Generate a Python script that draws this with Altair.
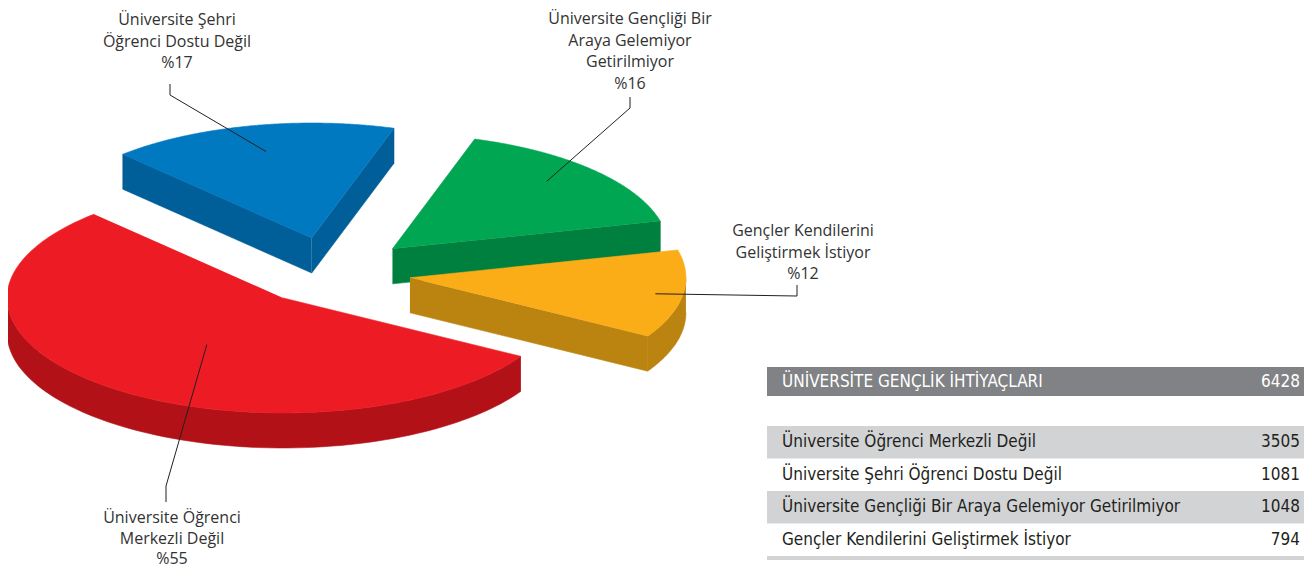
import numpy as np
import pandas as pd
import altair as alt

# ---------------- data ----------------
CATEGORIES = [
    "Üniversite Öğrenci Merkezli Değil",
    "Üniversite Şehri Öğrenci Dostu Değil",
    "Üniversite Gençliği Bir Araya Gelemiyor Getirilmiyor",
    "Gençler Kendilerini Geliştirmek İstiyor",
]
COUNTS = [3505, 1081, 1048, 794]
TOTAL_TITLE = "ÜNİVERSİTE GENÇLİK İHTİYAÇLARI"
TOTAL = 6428
PIE_LABEL_LINES = [
    ["Üniversite Öğrenci", "Merkezli Değil"],
    ["Üniversite Şehri", "Öğrenci Dostu Değil"],
    ["Üniversite Gençliği Bir", "Araya Gelemiyor", "Getirilmiyor"],
    ["Gençler Kendilerini", "Geliştirmek İstiyor"],
]
TOP_COLORS = ["#ED1C24", "#0079C1", "#00A651", "#FBAD18"]
SIDE_COLORS = ["#B11117", "#005E99", "#00803E", "#BB8411"]

# ---------------- layout (page pixel units) ----------------
W, H = 1296, 560
PX0, PY0 = 8, 8
CX, CY = 331, 273          # pie centre
RX, RY = 276, 115          # ellipse radii of the tilted pie
DEPTH = 35                 # thickness of the pie
START_DEG = 30.5           # start angle (clockwise on screen, 0 = right)
EXPLODE = [0.278, 0.312, 0.306, 0.289]
LEADER_ANCHOR = [(124.3, 0.49), (257.6, 0.77), (313.6, 0.81), (8.9, 0.90)]
LEADER_PATH = [[(166, 486), (166, 502)], [(170, 95), (170, 84)],
               [(630, 108), (630, 97)], [(797, 296), (797, 285)]]
LABEL_POS = [(172, 518), (177, 20), (630, 19), (803, 231)]
LABEL_LH = [20.5, 21.5, 21.5, 21.5]
LABEL_FONT = "Open Sans"
TABLE_FONT = "Liberation Sans Narrow, DejaVu Sans Condensed, Roboto"
TX0, TX1 = 767, 1304
HEAD_Y0, HEAD_Y1 = 367, 396
ROW_Y0, ROW_PITCH = 426, 32.5

counts = np.array(COUNTS, dtype=float)
shares = counts / counts.sum()
spans = shares * 360.0
starts = START_DEG + np.concatenate([[0], np.cumsum(spans)[:-1]])
ends = starts + spans
mids = (starts + ends) / 2


def rim(ax, ay, t, dy=0.0):
    r = np.radians(t)
    return ax + RX * np.cos(r), ay + RY * np.sin(r) + dy


faces = []  # (rank, kind, face_id, color, points)
for k in range(len(COUNTS)):
    m = np.radians(mids[k])
    ax = CX + EXPLODE[k] * RX * np.cos(m)
    ay = CY + EXPLODE[k] * RY * np.sin(m)
    t1, t2 = starts[k], ends[k]
    depth_rank = np.sin(m)
    sides = []
    if np.cos(np.radians(t1)) < 0:
        x1, y1 = rim(ax, ay, t1)
        sides.append([(ax, ay), (x1, y1), (x1, y1 + DEPTH), (ax, ay + DEPTH)])
    if np.cos(np.radians(t2)) > 0:
        x2, y2 = rim(ax, ay, t2)
        sides.append([(ax, ay), (x2, y2), (x2, y2 + DEPTH), (ax, ay + DEPTH)])
    for base in (0, 360):
        lo, hi = max(t1, base), min(t2, base + 180)
        if hi > lo:
            ts = np.linspace(lo, hi, 80)
            upper = [rim(ax, ay, t) for t in ts]
            lower = [rim(ax, ay, t, DEPTH) for t in ts[::-1]]
            sides.append(upper + lower)
    ts = np.linspace(t1, t2, 160)
    top = [(ax, ay)] + [rim(ax, ay, t) for t in ts]
    for j, pts in enumerate(sides):
        faces.append((depth_rank, 0, f"s{k}_{j}", SIDE_COLORS[k], pts))
    faces.append((depth_rank, 1, f"t{k}", TOP_COLORS[k], top))

faces.sort(key=lambda f: (f[0], f[1]))

rows = []
for _, _, fid, col, pts in faces:
    for i, (x, y) in enumerate(pts):
        rows.append({"face": fid, "i": i, "x": x, "y": y})
face_df = pd.DataFrame(rows)

xs = alt.Scale(domain=[PX0, PX0 + W], nice=False, zero=False)
ys = alt.Scale(domain=[PY0 + H, PY0], nice=False, zero=False)

layers = []
for _, _, fid, col, pts in faces:
    layers.append(
        alt.Chart(face_df)
        .transform_filter(alt.datum.face == fid)
        .mark_line(filled=True, color=col, stroke=col, strokeWidth=0.6)
        .encode(
            x=alt.X("x:Q", scale=xs, axis=None),
            y=alt.Y("y:Q", scale=ys, axis=None),
            order=alt.Order("i:Q"),
        )
    )

# leader lines
lrows = []
for k in range(len(COUNTS)):
    m = np.radians(mids[k])
    ax = CX + EXPLODE[k] * RX * np.cos(m)
    ay = CY + EXPLODE[k] * RY * np.sin(m)
    ang, frac = LEADER_ANCHOR[k]
    sx, sy = ax + frac * RX * np.cos(np.radians(ang)), ay + frac * RY * np.sin(np.radians(ang))
    pts = [(sx, sy)] + LEADER_PATH[k]
    for i, (x, y) in enumerate(pts):
        lrows.append({"line": k, "i": i, "x": x, "y": y})
leader_df = pd.DataFrame(lrows)
layers.append(
    alt.Chart(leader_df)
    .mark_line(color="#231F20", strokeWidth=1)
    .encode(
        x=alt.X("x:Q", scale=xs, axis=None),
        y=alt.Y("y:Q", scale=ys, axis=None),
        detail="line:N",
        order=alt.Order("i:Q"),
    )
)

# pie labels
trows = []
for k in range(len(COUNTS)):
    lines = PIE_LABEL_LINES[k] + [f"%{int(round(100 * shares[k]))}"]
    lx, ly = LABEL_POS[k]
    for j, s in enumerate(lines):
        trows.append({"x": lx, "y": ly + j * LABEL_LH[k], "text": s})
label_df = pd.DataFrame(trows)
layers.append(
    alt.Chart(label_df)
    .mark_text(font=LABEL_FONT, fontSize=16, color="#333333", align="center", baseline="middle")
    .encode(
        x=alt.X("x:Q", scale=xs, axis=None),
        y=alt.Y("y:Q", scale=ys, axis=None),
        text="text:N",
    )
)

# table
rect_rows = [{"x0": TX0, "x1": TX1, "y0": HEAD_Y0, "y1": HEAD_Y1, "fill": "#808285"}]
for r in range(len(CATEGORIES)):
    if r % 2 == 0:
        rect_rows.append({"x0": TX0, "x1": TX1, "y0": ROW_Y0 + r * ROW_PITCH,
                          "y1": ROW_Y0 + (r + 1) * ROW_PITCH, "fill": "#D1D3D4"})
yb = ROW_Y0 + len(CATEGORIES) * ROW_PITCH
rect_rows.append({"x0": TX0, "x1": TX1, "y0": yb, "y1": yb + 4, "fill": "#D1D3D4"})
rect_df = pd.DataFrame(rect_rows)
layers.append(
    alt.Chart(rect_df)
    .mark_rect()
    .encode(
        x=alt.X("x0:Q", scale=xs, axis=None),
        x2="x1:Q",
        y=alt.Y("y0:Q", scale=ys, axis=None),
        y2="y1:Q",
        fill=alt.Fill("fill:N", scale=None),
    )
)

tab_rows = [{"x": TX0 + 15, "y": (HEAD_Y0 + HEAD_Y1) / 2, "text": TOTAL_TITLE, "align": "left", "col": "#FFFFFF"},
            {"x": TX1 - 4, "y": (HEAD_Y0 + HEAD_Y1) / 2, "text": str(TOTAL), "align": "right", "col": "#FFFFFF"}]
for r, (cat, c) in enumerate(zip(CATEGORIES, COUNTS)):
    yc = ROW_Y0 + (r + 0.5) * ROW_PITCH
    tab_rows.append({"x": TX0 + 15, "y": yc, "text": cat, "align": "left", "col": "#231F20"})
    tab_rows.append({"x": TX1 - 4, "y": yc, "text": str(c), "align": "right", "col": "#231F20"})
tab_df = pd.DataFrame(tab_rows)
for al in ("left", "right"):
    layers.append(
        alt.Chart(tab_df)
        .transform_filter(alt.datum.align == al)
        .mark_text(font=TABLE_FONT, fontSize=17, align=al, baseline="middle")
        .encode(
            x=alt.X("x:Q", scale=xs, axis=None),
            y=alt.Y("y:Q", scale=ys, axis=None),
            text="text:N",
            color=alt.Color("col:N", scale=None),
        )
    )

chart = (
    alt.layer(*layers)
    .properties(width=W, height=H, padding=0, autosize=alt.AutoSizeParams(type="none"))
    .configure_view(stroke=None)
)

chart.save("out.html", embed_options={"renderer": "svg", "actions": False})
